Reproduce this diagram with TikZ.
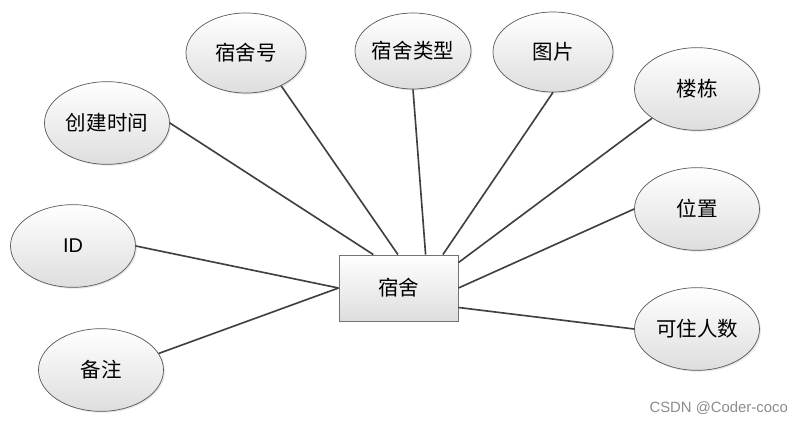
\documentclass[tikz,border=0pt]{standalone}
\usepackage{fontspec}
\setmainfont{Liberation Sans}
\newfontfamily\cjk{Noto Sans CJK SC}
\usetikzlibrary{shapes.geometric,shadows}

\begin{document}
\begin{tikzpicture}[
    x=0.03cm, y=-0.03cm,
    attr/.style={ellipse, draw=black!65, line width=0.6pt,
                 top color=white, bottom color=black!13,
                 drop shadow={opacity=0.2, shadow xshift=1.2pt, shadow yshift=-1.2pt},
                 minimum width=3.75cm, minimum height=2.48cm, inner sep=0pt,
                 font=\cjk\fontsize{17.5}{20}\selectfont},
    entity/.style={rectangle, draw=black!55, line width=0.8pt,
                 top color=white, bottom color=black!13,
                 drop shadow={opacity=0.2, shadow xshift=1.2pt, shadow yshift=-1.2pt},
                 minimum width=3.57cm, minimum height=1.98cm, inner sep=0pt,
                 font=\cjk\fontsize{17.5}{20}\selectfont},
    link/.style={draw=black!75, line width=1.4pt},
]
\useasboundingbox (0,0) rectangle (806,424);

% Entita
\node[entity] (dorm) at (398.5,288) {宿舍};

% Attributi
\node[attr] (ctime) at (107,123) {创建时间};
\node[attr, minimum width=3.6cm, minimum height=2.4cm] (roomno) at (246,53) {宿舍号};
\node[attr, minimum width=3.45cm, minimum height=2.28cm] (rtype) at (413,51) {宿舍类型};
\node[attr, minimum width=3.6cm, minimum height=2.4cm] (photo) at (553,52) {图片};
\node[attr] (bldg) at (697,89) {楼栋};
\node[attr] (place) at (697,209) {位置};
\node[attr] (beds) at (697,329) {可住人数};
\node[attr, font=\fontsize{17}{20}\selectfont] (id) at (73,246) {ID};
\node[attr] (note) at (101,370) {备注};

% Collegamenti
\foreach \a/\b in {ctime.east/dorm.127, roomno.-43/dorm.91, rtype.south/dorm.51,
                   photo.south/dorm.37, bldg.-147/dorm.23, place.west/dorm.east,
                   beds.west/dorm.-18, id.east/dorm.west, note.16/dorm.west} {
    \draw[link] (\a) -- (\b);
}

% Watermark
\node[font=\fontsize{12.7}{15}\selectfont, text=black!45, anchor=east] (mark) at (792,408) {CSDN @Coder-coco};

\end{tikzpicture}
\end{document}
